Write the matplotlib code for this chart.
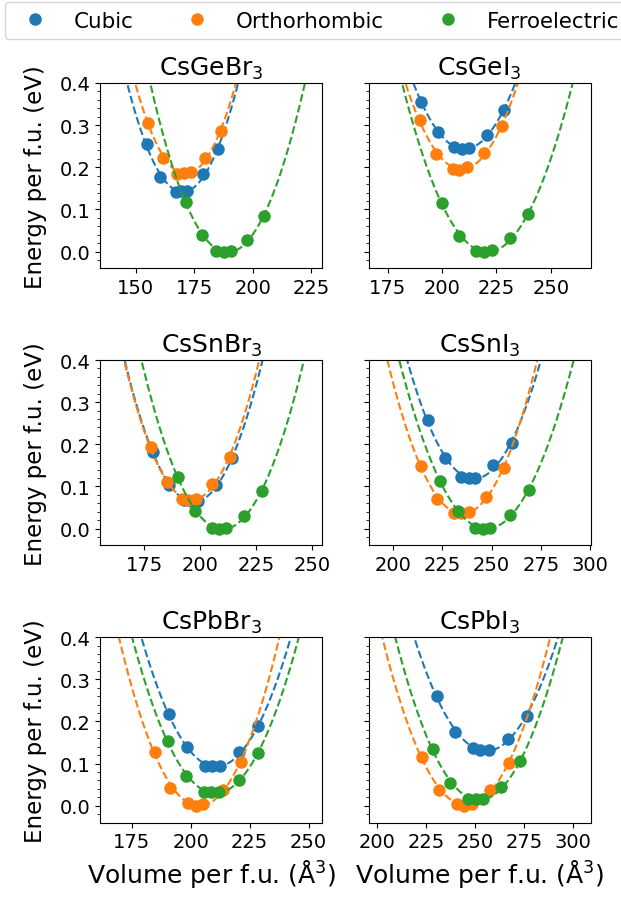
import numpy as np
import matplotlib
matplotlib.use("Agg")
import matplotlib.pyplot as plt

# compounds, one panel each (row by row)
compounds = ["CsGeBr$_3$", "CsGeI$_3$", "CsSnBr$_3$", "CsSnI$_3$", "CsPbBr$_3$", "CsPbI$_3$"]
phases = ["Cubic", "Orthorhombic", "Ferroelectric"]

# volume per f.u. (A^3) and energy per f.u. (eV)
vol_cubic = [
    [154.7, 160.4, 167.2, 169.2, 172.1, 178.6, 185.3],
    [190.6, 198.0, 205.7, 209.1, 212.6, 220.6, 228.5],
    [179.0, 186.0, 192.8, 195.8, 199.0, 207.0, 214.4],
    [217.7, 226.3, 234.6, 238.4, 241.8, 250.7, 260.4],
    [190.6, 198.4, 206.1, 209.0, 212.5, 220.5, 228.7],
    [230.4, 239.7, 248.7, 252.7, 257.0, 266.5, 276.2],
]
e_cubic = [
    [0.254, 0.177, 0.142, 0.143, 0.144, 0.183, 0.244],
    [0.356, 0.283, 0.248, 0.244, 0.246, 0.276, 0.336],
    [0.181, 0.103, 0.067, 0.065, 0.065, 0.103, 0.167],
    [0.258, 0.167, 0.123, 0.119, 0.121, 0.151, 0.204],
    [0.218, 0.139, 0.095, 0.093, 0.095, 0.127, 0.188],
    [0.260, 0.176, 0.137, 0.131, 0.133, 0.158, 0.212],
]
vol_ortho = [
    [155.4, 161.5, 167.8, 170.8, 173.7, 179.6, 186.3],
    [189.9, 197.5, 205.2, 208.0, 211.4, 219.5, 227.8],
    [177.8, 185.0, 192.0, 194.7, 198.0, 205.5, 213.2],
    [214.5, 222.4, 230.9, 234.6, 238.4, 247.2, 256.1],
    [184.7, 191.3, 198.8, 202.3, 205.4, 213.5, 221.2],
    [222.7, 231.7, 240.5, 244.4, 248.2, 257.8, 267.2],
]
e_ortho = [
    [0.305, 0.223, 0.185, 0.187, 0.188, 0.222, 0.285],
    [0.311, 0.232, 0.195, 0.194, 0.201, 0.235, 0.299],
    [0.194, 0.110, 0.070, 0.069, 0.071, 0.107, 0.169],
    [0.148, 0.070, 0.037, 0.037, 0.040, 0.075, 0.143],
    [0.128, 0.042, 0.006, 0.000, 0.004, 0.037, 0.103],
    [0.115, 0.038, 0.004, 0.000, 0.004, 0.037, 0.101],
]
vol_ferro = [
    [171.4, 178.2, 184.3, 187.5, 190.6, 197.7, 204.9],
    [200.2, 207.8, 215.7, 219.3, 222.9, 231.3, 239.7],
    [190.1, 197.5, 205.5, 208.4, 211.4, 219.6, 227.6],
    [224.1, 232.9, 241.8, 245.7, 249.4, 259.2, 268.8],
    [190.3, 197.9, 205.7, 208.5, 211.8, 220.5, 228.7],
    [228.3, 237.1, 246.1, 250.2, 254.1, 263.4, 273.1],
]
e_ferro = [
    [0.118, 0.039, 0.002, 0.000, 0.002, 0.028, 0.085],
    [0.114, 0.038, 0.002, 0.000, 0.003, 0.031, 0.088],
    [0.123, 0.041, 0.002, 0.000, 0.002, 0.030, 0.089],
    [0.113, 0.041, 0.002, 0.000, 0.002, 0.032, 0.091],
    [0.153, 0.071, 0.033, 0.032, 0.032, 0.062, 0.125],
    [0.135, 0.055, 0.017, 0.016, 0.016, 0.045, 0.105],
]

x_ranges = [(134.8, 229.8), (166.3, 268.4), (155.3, 254.7),
            (187.8, 300.2), (161.6, 255.9), (195.6, 309.0)]
x_ticks = [[150, 175, 200, 225], [175, 200, 225, 250], [175, 200, 225, 250],
           [200, 225, 250, 275, 300], [175, 200, 225, 250], [200, 225, 250, 275, 300]]

colors = ["#1f77b4", "#ff7f0e", "#2ca02c"]


def fit_curve(v, e, vgrid):
    # least-squares parabola E(V) through the computed points
    c = np.polyfit(v, e, 2)
    return np.polyval(c, vgrid)


fig, axes = plt.subplots(3, 2, figsize=(6.21, 9.03), dpi=100)
fig.subplots_adjust(left=0.1614, right=0.9514, bottom=0.088, top=0.907,
                    wspace=0.2074, hspace=0.4946)

vols = [vol_cubic, vol_ortho, vol_ferro]
ens = [e_cubic, e_ortho, e_ferro]

for i, ax in enumerate(axes.flat):
    lo, hi = x_ranges[i]
    vgrid = np.linspace(lo, hi, 400)
    for p in range(3):
        v = vols[p][i]
        e = ens[p][i]
        ax.plot(v, e, "o", color=colors[p], markersize=8, label=phases[p])
        ax.plot(vgrid, fit_curve(v, e, vgrid), "--", color=colors[p], lw=1.5)
    ax.set_xlim(lo, hi)
    ax.set_ylim(-0.04, 0.4)
    ax.set_xticks(x_ticks[i])
    ax.set_yticks([0.0, 0.1, 0.2, 0.3, 0.4])
    ax.set_yticks(np.arange(-0.02, 0.41, 0.02), minor=True)
    ax.tick_params(labelsize=14)
    ax.set_title(compounds[i], fontsize=18)
    if i % 2 == 0:
        ax.set_ylabel("Energy per f.u. (eV)", fontsize=16.5, labelpad=9)
    else:
        ax.set_yticklabels([])
    if i >= 4:
        ax.set_xlabel("Volume per f.u. (Å$^3$)", fontsize=18)

handles, labels = axes[0, 0].get_legend_handles_labels()
fig.legend(handles, labels, loc="upper left", bbox_to_anchor=(5 / 621, 1 - 3 / 903),
           ncol=3, fontsize=15.4, borderaxespad=0)

fig.savefig("out.png", dpi=100)
